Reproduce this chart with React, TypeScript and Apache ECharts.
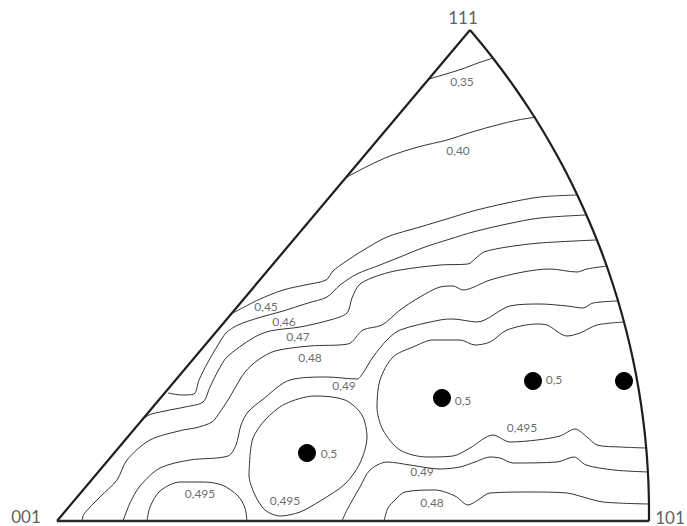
import React, { useEffect, useRef } from "react";
import * as echarts from "echarts";

// Pole figure corners (pixel-space data coordinates: x right, y down)
const vertexLabels: [number, number, string][] = [
  [463, 17, "111"],
  [26, 516, "001"],
  [670, 517, "101"],
];

// Triangle boundary
const leftEdge = [[57, 521], [470, 30]];
const baseEdge = [[57, 521], [649, 521]];
const rightArc = [
  [470, 30], [486.6, 50], [502, 70], [516.4, 90], [529.9, 110], [542.4, 130],
  [554, 150], [564.9, 170], [577.3, 195], [588.6, 220], [598.9, 245], [608.1, 270],
  [617.8, 300], [626.1, 330], [633.1, 360], [638.8, 390], [643.2, 420], [646.4, 450],
  [648.3, 480], [648.9, 500], [649, 521],
];

// Contour lines
const c035 = [[429, 79], [446, 74], [462, 69], [478, 63], [493, 58]];
const c040 = [[347, 177], [368, 166], [390, 156], [418, 147], [447, 140], [472, 132], [497, 125], [518, 120], [536, 117]];
const c045 = [
  [233, 313], [258, 300], [283, 290], [305, 285], [326, 280], [333, 271], [345, 262],
  [362, 251], [387, 237], [420, 227], [450, 218], [473, 211], [507, 203], [540, 197], [577, 195],
];
const c046 = [
  [168, 393], [182, 395], [194, 394], [199, 380], [208, 362], [218, 345], [226, 333],
  [238, 325], [258, 318], [283, 311], [308, 303], [327, 297], [340, 285], [357, 274],
  [380, 265], [400, 257], [425, 247], [450, 239], [473, 232], [507, 224], [540, 218], [586, 215],
];
const c047 = [
  [132, 432], [147, 416], [165, 411], [185, 407], [203, 402], [210, 387], [218, 371],
  [227, 357], [253, 338], [270, 331], [300, 327], [330, 320], [347, 313], [352, 298],
  [360, 284], [380, 275], [400, 270], [440, 265], [468, 264], [476, 258], [484, 252],
  [507, 247], [540, 243], [596, 240],
];
const c048 = [
  [82, 521], [84, 514], [100, 497], [117, 480], [127, 460], [150, 440], [183, 430],
  [195, 428], [212, 422], [220, 412], [228, 400], [235, 388], [245, 372], [258, 360],
  [275, 351], [310, 346], [348, 344], [363, 330], [382, 325], [400, 310], [420, 297],
  [440, 287], [453, 286], [463, 290], [490, 280], [523, 272], [550, 269], [577, 272],
  [587, 269], [607, 266],
];
const c049 = [
  [123, 521], [130, 503], [140, 486], [160, 468], [190, 460], [228, 456], [236, 445],
  [241, 425], [248, 412], [262, 400], [290, 380], [327, 377], [357, 379], [363, 373],
  [373, 357], [387, 340], [400, 330], [440, 320], [453, 319], [477, 322], [510, 306],
  [540, 304], [567, 306], [583, 308], [593, 303], [618, 301],
];
const c049low = [
  [342, 521], [347, 510], [360, 487], [370, 470], [387, 462], [410, 465], [440, 469],
  [460, 467], [475, 462], [490, 457], [500, 458], [513, 463], [557, 462], [574, 457],
  [586, 465], [614, 470], [648, 472],
];
const c048low = [
  [384, 521], [388, 508], [395, 500], [405, 492], [435, 490], [455, 496], [468, 505],
  [478, 500], [490, 493], [530, 492], [567, 493], [583, 497], [603, 502], [649, 504],
];
const c0495right = [
  [624, 322], [597, 325], [580, 333], [567, 336], [547, 325], [537, 324], [507, 330],
  [490, 342], [475, 345], [460, 340], [433, 340], [413, 347], [393, 357], [380, 380],
  [377, 407], [383, 430], [400, 450], [427, 457], [453, 456], [470, 448], [493, 435],
  [510, 442], [537, 440], [560, 436], [575, 429], [587, 437], [597, 445], [620, 447], [646, 448],
];
const c0495oval = [
  [250, 456], [249, 475], [255, 495], [265, 510], [280, 516], [300, 512], [320, 501],
  [345, 484], [360, 463], [367, 437], [362, 415], [345, 400], [315, 396], [285, 404],
  [265, 420], [253, 438], [250, 456],
];
const c0495dome = [
  [147, 521], [150, 507], [160, 491], [180, 482], [203, 482], [222, 485], [238, 496], [245, 508], [247, 521],
];

// Maxima
const dots = [[307, 453], [442, 398], [533, 381], [624, 381]];

// Contour value labels
const contourLabels: [number, number, string][] = [
  [462, 81, "0,35"], [458, 150, "0,40"], [266, 306, "0,45"], [284, 321, "0,46"],
  [298, 336, "0,47"], [310, 357, "0,48"], [344, 385, "0,49"], [329, 453, "0,5"],
  [463, 400, "0,5"], [554, 379, "0,5"], [522, 427, "0,495"], [422, 471, "0,49"],
  [432, 502, "0,48"], [200, 493, "0,495"], [285, 500, "0,495"],
];

export default function App() {
  const ref = useRef<HTMLDivElement>(null);
  useEffect(() => {
    const chart = echarts.init(ref.current!, null, { renderer: "svg" });
    const line = (data: number[][], width: number, color: string, smooth: number | boolean) => ({
      type: "line",
      data,
      symbol: "none",
      smooth,
      silent: true,
      lineStyle: { width, color },
    });
    const contours = [c035, c040, c045, c046, c047, c048, c049, c049low, c048low, c0495right, c0495oval, c0495dome];
    const textSeries = (data: [number, number, string][], size: number, color: string) => ({
      type: "scatter",
      data,
      symbolSize: 1,
      silent: true,
      itemStyle: { color: "rgba(0,0,0,0)" },
      label: {
        show: true,
        position: "inside",
        formatter: (p: any) => p.value[2],
        fontFamily: "Lato, 'Liberation Sans', sans-serif",
        fontSize: size,
        lineHeight: size,
        color,
      },
      z: 5,
    });
    chart.setOption({
      animation: false,
      backgroundColor: "#fff",
      grid: { left: 0, right: 0, top: 0, bottom: 0 },
      xAxis: { type: "value", min: 0, max: 687, show: false },
      yAxis: { type: "value", min: 0, max: 526, inverse: true, show: false },
      series: [
        ...contours.map((c) => line(c, 1, "#333", 0.3)),
        line(leftEdge, 2.2, "#1e1e1e", false),
        line(rightArc, 2.2, "#1e1e1e", 0.3),
        line(baseEdge, 2.6, "#2a2a2a", false),
        {
          type: "scatter",
          data: dots,
          symbolSize: 18,
          silent: true,
          itemStyle: { color: "#000", opacity: 1 },
          z: 4,
        },
        textSeries(contourLabels, 12, "#444"),
        textSeries(vertexLabels, 17, "#333"),
      ],
    });
    return () => chart.dispose();
  }, []);
  return (
    <div
      ref={ref}
      style={{ position: "fixed", left: 0, top: 0, width: 687, height: 526, background: "#fff" }}
    />
  );
}
